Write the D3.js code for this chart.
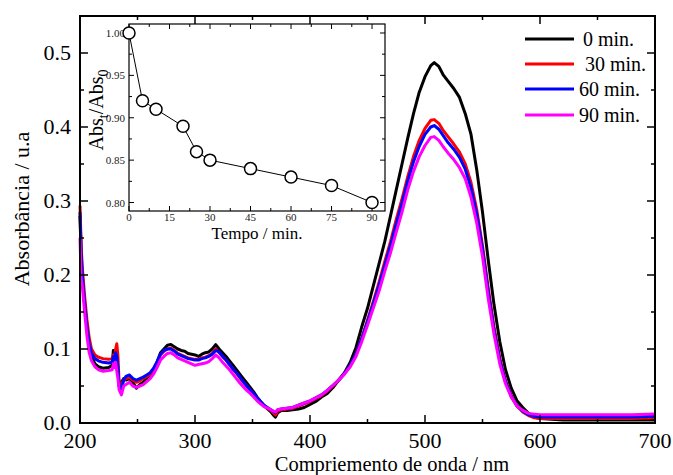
<!DOCTYPE html>
<html>
<head>
<meta charset="utf-8">
<script src="https://cdn.jsdelivr.net/npm/d3@7"></script>
<style>
  body { margin: 0; background: #fff; }
  svg { display: block; font-family: "Liberation Serif", "DejaVu Serif", serif; }
</style>
</head>
<body>
<svg id="chart" width="673" height="475"></svg>
<script>
// wavelength grid (nm)
const wavelengths = [200, 201, 202, 204, 206, 208, 210, 213, 216, 220, 225, 228, 229, 230, 231, 232, 233, 234, 236, 238,
  240, 243, 246, 249, 252, 255, 258, 261, 264, 267, 270, 273, 276, 279, 282, 285, 288, 291, 294, 297,
  300, 303, 306, 309, 312, 315, 318, 321, 324, 327, 330, 333, 336, 339, 342, 345, 348, 351, 354, 357,
  360, 363, 366, 368, 370, 372, 375, 380, 385, 390, 395, 400, 405, 410, 415, 420, 425, 430, 435, 440,
  445, 450, 455, 460, 465, 470, 475, 480, 485, 490, 495, 500, 505, 508, 512, 516, 520, 525, 530, 535,
  540, 545, 550, 555, 560, 565, 570, 575, 580, 585, 590, 595, 600, 620, 640, 660, 680, 700]

const abs0 = [0.280, 0.225, 0.195, 0.160, 0.130, 0.105, 0.090, 0.080, 0.076, 0.074, 0.075, 0.078, 0.098, 0.088, 0.090, 0.085, 0.070, 0.050, 0.055, 0.060,
  0.058, 0.060, 0.055, 0.047, 0.052, 0.055, 0.060, 0.065, 0.072, 0.082, 0.095, 0.100, 0.105, 0.106, 0.103, 0.100, 0.098, 0.097, 0.094, 0.093,
  0.092, 0.090, 0.093, 0.095, 0.096, 0.100, 0.106, 0.100, 0.095, 0.090, 0.084, 0.078, 0.072, 0.066, 0.060, 0.054, 0.048, 0.042, 0.035, 0.029,
  0.024, 0.019, 0.015, 0.011, 0.008, 0.014, 0.017, 0.017, 0.018, 0.019, 0.021, 0.025, 0.029, 0.035, 0.040, 0.048, 0.058, 0.068, 0.082, 0.102,
  0.130, 0.155, 0.185, 0.215, 0.245, 0.280, 0.315, 0.350, 0.385, 0.418, 0.447, 0.468, 0.483, 0.487, 0.482, 0.470, 0.462, 0.452, 0.440, 0.418,
  0.390, 0.342, 0.285, 0.220, 0.160, 0.110, 0.072, 0.047, 0.030, 0.021, 0.013, 0.008, 0.006, 0.004, 0.004, 0.004, 0.004, 0.004]

const abs30 = [0.294, 0.240, 0.210, 0.172, 0.140, 0.115, 0.100, 0.092, 0.089, 0.087, 0.086, 0.087, 0.092, 0.088, 0.100, 0.107, 0.090, 0.055, 0.052, 0.058,
  0.060, 0.062, 0.058, 0.055, 0.057, 0.060, 0.063, 0.066, 0.072, 0.082, 0.092, 0.097, 0.100, 0.101, 0.098, 0.094, 0.092, 0.090, 0.088, 0.087,
  0.086, 0.086, 0.088, 0.089, 0.091, 0.094, 0.100, 0.095, 0.090, 0.085, 0.079, 0.073, 0.067, 0.061, 0.055, 0.050, 0.045, 0.039, 0.033, 0.028,
  0.023, 0.020, 0.017, 0.014, 0.011, 0.016, 0.018, 0.019, 0.020, 0.023, 0.026, 0.029, 0.033, 0.037, 0.043, 0.050, 0.058, 0.067, 0.078, 0.093,
  0.115, 0.139, 0.164, 0.190, 0.218, 0.245, 0.275, 0.303, 0.333, 0.360, 0.382, 0.398, 0.409, 0.410, 0.405, 0.395, 0.387, 0.377, 0.366, 0.350,
  0.325, 0.288, 0.240, 0.182, 0.130, 0.088, 0.057, 0.037, 0.023, 0.015, 0.010, 0.007, 0.006, 0.006, 0.006, 0.006, 0.006, 0.007]

const abs60 = [0.285, 0.230, 0.200, 0.162, 0.130, 0.107, 0.094, 0.087, 0.084, 0.082, 0.081, 0.082, 0.090, 0.085, 0.095, 0.090, 0.075, 0.050, 0.045, 0.058,
  0.063, 0.065, 0.060, 0.058, 0.060, 0.062, 0.065, 0.068, 0.074, 0.083, 0.093, 0.098, 0.100, 0.100, 0.097, 0.093, 0.091, 0.089, 0.087, 0.086,
  0.085, 0.085, 0.087, 0.088, 0.090, 0.093, 0.098, 0.096, 0.090, 0.085, 0.079, 0.073, 0.068, 0.062, 0.056, 0.050, 0.045, 0.040, 0.034, 0.029,
  0.024, 0.021, 0.018, 0.016, 0.014, 0.018, 0.019, 0.020, 0.021, 0.024, 0.027, 0.030, 0.034, 0.038, 0.044, 0.051, 0.058, 0.067, 0.078, 0.093,
  0.114, 0.137, 0.161, 0.186, 0.213, 0.240, 0.269, 0.297, 0.327, 0.353, 0.374, 0.390, 0.400, 0.402, 0.397, 0.388, 0.379, 0.370, 0.359, 0.343,
  0.318, 0.282, 0.235, 0.177, 0.126, 0.085, 0.056, 0.036, 0.023, 0.016, 0.011, 0.009, 0.008, 0.008, 0.008, 0.008, 0.008, 0.009]

const abs90 = [0.250, 0.195, 0.185, 0.150, 0.118, 0.095, 0.084, 0.076, 0.072, 0.070, 0.071, 0.072, 0.080, 0.075, 0.082, 0.070, 0.060, 0.045, 0.038, 0.050,
  0.052, 0.055, 0.050, 0.048, 0.050, 0.052, 0.056, 0.060, 0.066, 0.075, 0.085, 0.090, 0.094, 0.095, 0.092, 0.088, 0.086, 0.084, 0.082, 0.080,
  0.078, 0.079, 0.080, 0.081, 0.083, 0.087, 0.092, 0.088, 0.082, 0.077, 0.072, 0.066, 0.060, 0.054, 0.049, 0.044, 0.040, 0.035, 0.030, 0.026,
  0.022, 0.020, 0.018, 0.016, 0.015, 0.018, 0.019, 0.020, 0.021, 0.024, 0.027, 0.030, 0.034, 0.038, 0.044, 0.051, 0.058, 0.066, 0.076, 0.090,
  0.110, 0.132, 0.155, 0.178, 0.205, 0.230, 0.258, 0.285, 0.315, 0.340, 0.360, 0.375, 0.386, 0.387, 0.382, 0.373, 0.365, 0.356, 0.345, 0.330,
  0.305, 0.270, 0.225, 0.168, 0.120, 0.080, 0.053, 0.035, 0.023, 0.017, 0.013, 0.012, 0.011, 0.011, 0.011, 0.011, 0.011, 0.012]

const seriesNames = ['0 min.', '30 min.', '60 min.', '90 min.']
const seriesColors = ['#000000', '#ff0000', '#0000ff', '#ff00ff']

// inset: relative absorbance over time
const insetTimes = [0, 5, 10, 20, 25, 30, 45, 60, 75, 90]
const insetRatio = [1.00, 0.92, 0.91, 0.89, 0.86, 0.85, 0.84, 0.83, 0.82, 0.80]

const svg = d3.select('#chart')
  .attr('font-family', '"Liberation Serif", "DejaVu Serif", serif')

const mLeft = 80, mRight = 655, mTop = 16, mBottom = 423

const x = d3.scaleLinear().domain([200, 700]).range([mLeft, mRight])
const y = d3.scaleLinear().domain([0, 0.55]).range([mBottom, mTop])

// spectra
const spectra = [abs0, abs30, abs60, abs90]
const line = d3.line()
  .x((d, i) => x(wavelengths[i]))
  .y(d => y(d))

spectra.forEach((vals, k) => {
  svg.append('path')
    .datum(vals)
    .attr('d', line)
    .attr('fill', 'none')
    .attr('stroke', seriesColors[k])
    .attr('stroke-width', 3)
    .attr('stroke-linejoin', 'round')
})

// frame + ticks
const xMajor = d3.range(200, 701, 100)
const xMinor = d3.range(250, 700, 100)
const yMajor = d3.range(0, 0.51, 0.1)
const yMinor = d3.range(0.05, 0.55, 0.1)

const frame = svg.append('g').attr('stroke', '#000').attr('stroke-width', 1.5)

xMajor.forEach(v => {
  frame.append('line').attr('x1', x(v)).attr('x2', x(v)).attr('y1', mBottom).attr('y2', mBottom - 8)
  frame.append('line').attr('x1', x(v)).attr('x2', x(v)).attr('y1', mTop).attr('y2', mTop + 8)
})
xMinor.forEach(v => {
  frame.append('line').attr('x1', x(v)).attr('x2', x(v)).attr('y1', mBottom).attr('y2', mBottom - 4)
  frame.append('line').attr('x1', x(v)).attr('x2', x(v)).attr('y1', mTop).attr('y2', mTop + 4)
})
yMajor.forEach(v => {
  frame.append('line').attr('x1', mLeft).attr('x2', mLeft + 8).attr('y1', y(v)).attr('y2', y(v))
  frame.append('line').attr('x1', mRight).attr('x2', mRight - 8).attr('y1', y(v)).attr('y2', y(v))
})
yMinor.forEach(v => {
  frame.append('line').attr('x1', mLeft).attr('x2', mLeft + 4).attr('y1', y(v)).attr('y2', y(v))
  frame.append('line').attr('x1', mRight).attr('x2', mRight - 4).attr('y1', y(v)).attr('y2', y(v))
})

svg.append('rect')
  .attr('x', mLeft).attr('y', mTop)
  .attr('width', mRight - mLeft).attr('height', mBottom - mTop)
  .attr('fill', 'none').attr('stroke', '#000').attr('stroke-width', 2)

// tick labels
svg.append('g').selectAll('text')
  .data(xMajor)
  .enter().append('text')
  .attr('x', d => x(d))
  .attr('y', 447.5)
  .attr('text-anchor', 'middle')
  .attr('font-size', '22px')
  .text(d => d)

svg.append('g').selectAll('text')
  .data(yMajor)
  .enter().append('text')
  .attr('x', mLeft - 9)
  .attr('y', d => y(d) + 6.5)
  .attr('text-anchor', 'end')
  .attr('font-size', '22px')
  .text(d => d3.format('.1f')(d))

// axis titles
svg.append('text')
  .attr('x', 392)
  .attr('y', 470.5)
  .attr('text-anchor', 'middle')
  .attr('font-size', '20.5px')
  .text('Compriemento de onda / nm')

svg.append('text')
  .attr('transform', 'translate(29, 209) rotate(-90)')
  .attr('text-anchor', 'middle')
  .attr('font-size', '22px')
  .text('Absorbância / u.a')

// legend
const legendY = [39, 64, 89, 115]
const legendTextX = [583, 585, 579, 579]
seriesNames.forEach((name, k) => {
  svg.append('line')
    .attr('x1', 525).attr('x2', 574)
    .attr('y1', legendY[k]).attr('y2', legendY[k])
    .attr('stroke', seriesColors[k]).attr('stroke-width', 3)
  svg.append('text')
    .attr('x', legendTextX[k])
    .attr('y', legendY[k] + 7)
    .attr('font-size', '20px')
    .text(name)
})

// inset
const iLeft = 129, iRight = 385, iTop = 24, iBottom = 211
const ix = d3.scaleLinear().domain([0, 94.8]).range([iLeft, iRight])
const iy = d3.scaleLinear().domain([0.79, 1.0106]).range([iBottom, iTop])

const inset = svg.append('g')
inset.append('rect')
  .attr('x', iLeft).attr('y', iTop)
  .attr('width', iRight - iLeft).attr('height', iBottom - iTop)
  .attr('fill', '#fff').attr('stroke', '#000').attr('stroke-width', 1.2)

const iTicks = inset.append('g').attr('stroke', '#000').attr('stroke-width', 1)
d3.range(0, 91, 15).forEach(v => {
  iTicks.append('line').attr('x1', ix(v)).attr('x2', ix(v)).attr('y1', iBottom).attr('y2', iBottom - 5)
  iTicks.append('line').attr('x1', ix(v)).attr('x2', ix(v)).attr('y1', iTop).attr('y2', iTop + 5)
})
d3.range(7.5, 94, 15).forEach(v => {
  iTicks.append('line').attr('x1', ix(v)).attr('x2', ix(v)).attr('y1', iBottom).attr('y2', iBottom - 3)
  iTicks.append('line').attr('x1', ix(v)).attr('x2', ix(v)).attr('y1', iTop).attr('y2', iTop + 3)
})
d3.range(0.80, 1.001, 0.05).forEach(v => {
  iTicks.append('line').attr('x1', iLeft).attr('x2', iLeft + 5).attr('y1', iy(v)).attr('y2', iy(v))
  iTicks.append('line').attr('x1', iRight).attr('x2', iRight - 5).attr('y1', iy(v)).attr('y2', iy(v))
})
d3.range(0.825, 1.0, 0.05).forEach(v => {
  iTicks.append('line').attr('x1', iLeft).attr('x2', iLeft + 3).attr('y1', iy(v)).attr('y2', iy(v))
  iTicks.append('line').attr('x1', iRight).attr('x2', iRight - 3).attr('y1', iy(v)).attr('y2', iy(v))
})

inset.append('g').selectAll('text')
  .data(d3.range(0, 91, 15))
  .enter().append('text')
  .attr('x', d => ix(d))
  .attr('y', iBottom + 10)
  .attr('text-anchor', 'middle')
  .attr('font-size', '11px')
  .attr('fill', '#222')
  .text(d => d)

inset.append('g').selectAll('text')
  .data(d3.range(0.80, 1.001, 0.05))
  .enter().append('text')
  .attr('x', iLeft - 4)
  .attr('y', d => iy(d) + 4)
  .attr('text-anchor', 'end')
  .attr('font-size', '11px')
  .attr('fill', '#222')
  .text(d => d3.format('.2f')(d))

const iLine = d3.line()
  .x((d, i) => ix(insetTimes[i]))
  .y(d => iy(d))

inset.append('path')
  .datum(insetRatio)
  .attr('d', iLine)
  .attr('fill', 'none')
  .attr('stroke', '#000')
  .attr('stroke-width', 1)

inset.append('g').selectAll('circle')
  .data(insetRatio)
  .enter().append('circle')
  .attr('cx', (d, i) => ix(insetTimes[i]))
  .attr('cy', d => iy(d))
  .attr('r', 6)
  .attr('fill', '#fff')
  .attr('stroke', '#000')
  .attr('stroke-width', 1.5)

inset.append('text')
  .attr('x', (iLeft + iRight) / 2)
  .attr('y', 239)
  .attr('text-anchor', 'middle')
  .attr('font-size', '17px')
  .text('Tempo / min.')

const iyLabel = inset.append('text')
  .attr('transform', 'translate(103, 110) rotate(-90)')
  .attr('text-anchor', 'middle')
  .attr('font-size', '20px')
iyLabel.append('tspan').text('Abs')
iyLabel.append('tspan').attr('font-size', '14px').attr('dy', 5).text('t')
iyLabel.append('tspan').attr('dy', -5).text('/Abs')
iyLabel.append('tspan').attr('font-size', '14px').attr('dy', 5).text('0')
</script>
</body>
</html>
